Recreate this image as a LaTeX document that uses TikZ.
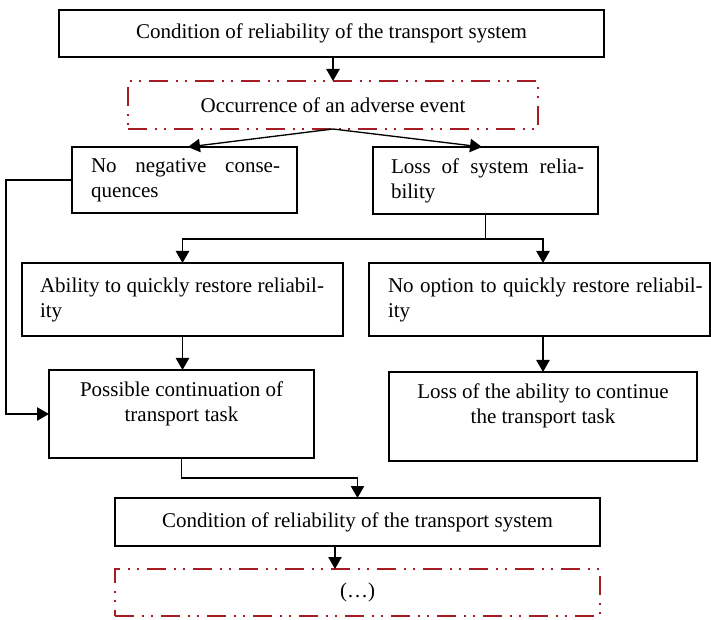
\documentclass[tikz,border=0pt]{standalone}
\usepackage{fontspec}
\setmainfont{Liberation Serif}
\usetikzlibrary{arrows.meta,calc}
\definecolor{dred}{RGB}{165,28,34}
% #1 width, #2 height, #3 left pad, #4 text width, #5 text
\newcommand\cellbox[5]{\parbox[c][#2][c]{#1}{\hspace*{#3}\parbox[t]{#4}{#5}}}
\newcommand\topbox[3]{\parbox[c][#2][t]{#1}{\vspace*{9pt}\centering #3}}
\tikzset{
  box/.style={draw=black, line width=1.25pt, inner sep=0pt, outer sep=0pt, anchor=north west},
  redbox/.style={draw=dred, line width=1.7pt, inner sep=0pt, outer sep=0pt, anchor=north west,
    dash pattern=on 14pt off 6pt on 1.5pt off 5.5pt on 1.5pt off 6pt},
  link/.style={line width=1pt},
  arr/.style={line width=1pt, -{Triangle[length=9pt,width=10pt]}}
}
\begin{document}
\begin{tikzpicture}[x=0.75pt, y=-0.75pt, font=\fontsize{15.75pt}{18.75pt}\selectfont]
\useasboundingbox (0,0) rectangle (711,620);

\node[box] (top) at (59,10)
  {\cellbox{408.75pt}{35.25pt}{0pt}{408.75pt}{\centering Condition of reliability of the transport system}};
\node[redbox] (adverse) at (128,81)
  {\cellbox{307.5pt}{36pt}{0pt}{307.5pt}{\centering Occurrence of an adverse event}};
\node[box] (noneg) at (72,147)
  {\cellbox{168.75pt}{49.5pt}{14.25pt}{141.75pt}{\makebox[\linewidth][s]{No negative conse-}\\quences}};
\node[box] (losssys) at (373,147)
  {\cellbox{168.75pt}{50.25pt}{13.5pt}{144.75pt}{\makebox[\linewidth][s]{Loss of system relia-}\\bility}};
\node[box] (ability) at (22,263)
  {\cellbox{240.75pt}{54.75pt}{13.5pt}{213pt}{\makebox[\linewidth][s]{Ability to quickly restore reliabil-}\\ity}};
\node[box] (noopt) at (369,263)
  {\cellbox{255.75pt}{54.75pt}{14.25pt}{236pt}{\makebox[\linewidth][s]{No option to quickly restore reliabil-}\\ity}};
\node[box] (possible) at (49,370)
  {\topbox{198.75pt}{66pt}{Possible continuation of\\transport task}};
\node[box] (lossab) at (389,372)
  {\topbox{231pt}{66.75pt}{Loss of the ability to continue\\the transport task}};
\node[box] (cond2) at (115,498)
  {\cellbox{363.75pt}{36pt}{0pt}{363.75pt}{\centering Condition of reliability of the transport system}};
\node[redbox] (cont) at (115,569)
  {\cellbox{363.75pt}{35.25pt}{0pt}{363.75pt}{\centering (…)}};

\coordinate (lft) at (6,0);
\coordinate (split) at ($(losssys.south)+(0,25)$);

\draw[arr] (adverse.north |- top.south) -- (adverse.north);
\draw[arr] (adverse.south) -- ([xshift=2.6pt]noneg.north);
\draw[arr] (adverse.south) -- ([xshift=-2.6pt]losssys.north);
\draw[link] (losssys.south) -- (split);
\draw[arr] (split) -| (ability.north);
\draw[arr] (split) -| (lossab.north |- noopt.north);
\draw[arr] (ability.south) -- (ability.south |- possible.north);
\draw[arr] (lossab.north |- noopt.south) -- (lossab.north);
\draw[arr] (noneg.west) -- (noneg.west -| lft) -- (lft |- possible.west) -- (possible.west);
\draw[arr] (possible.south) -- ++(0,20) -| (cond2.north);
\draw[arr] ([xshift=-16.9pt]cond2.south) -- ([xshift=-16.9pt]cont.north);
\end{tikzpicture}
\end{document}
